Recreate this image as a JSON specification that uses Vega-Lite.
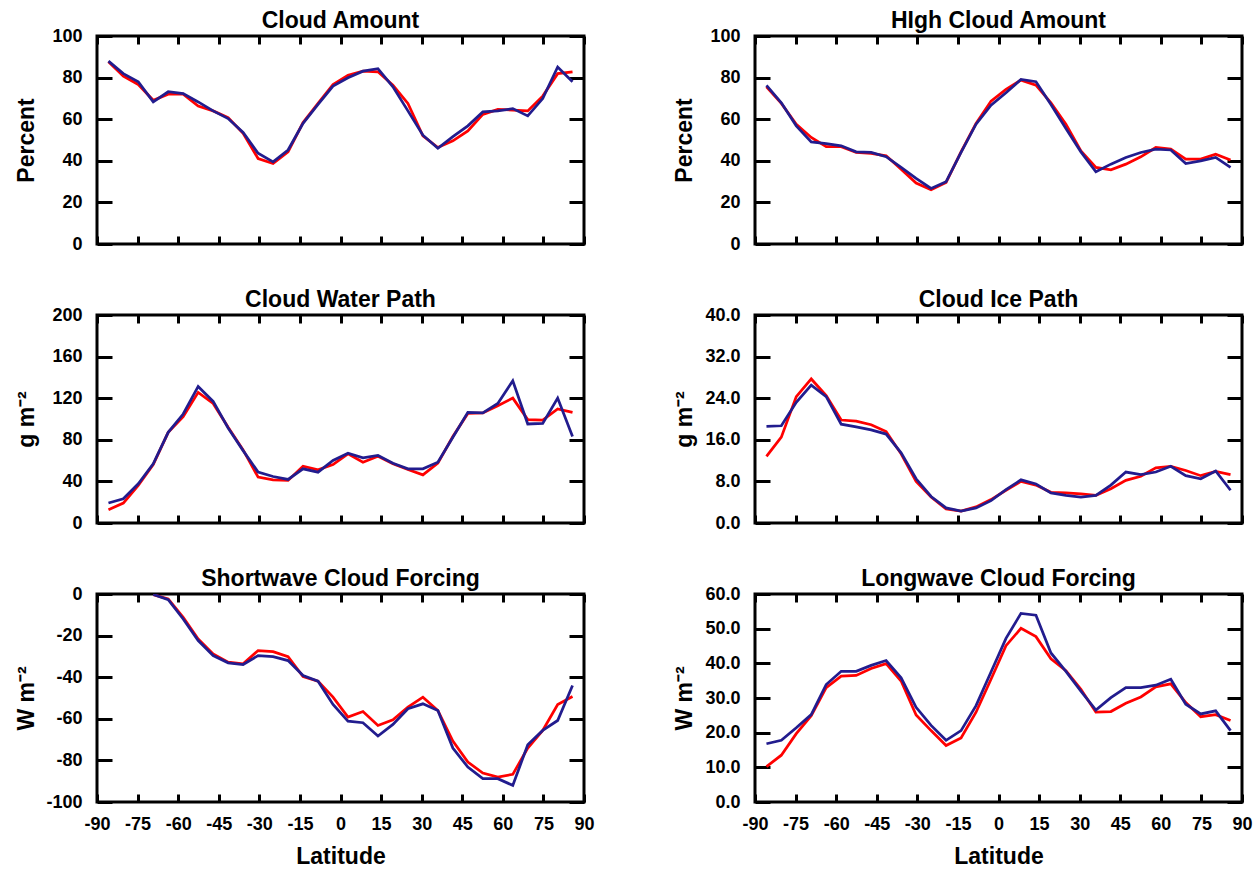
{
  "$schema": "https://vega.github.io/schema/vega-lite/v6.json",
  "padding": {"left": 13, "top": 8, "right": 5, "bottom": 0},
  "data": {"values": [
    {"lat": -85.761, "ca_r": 87.6, "ca_b": 87.9, "hc_r": 75.6, "hc_b": 76.3, "cw_r": 12.8, "cw_b": 19.2, "ci_r": 12.8, "ci_b": 18.6, "sw_r": null, "sw_b": null, "lw_r": 10.2, "lw_b": 16.8},
    {"lat": -80.269, "ca_r": 80.7, "ca_b": 81.9, "hc_r": 67.6, "hc_b": 67.9, "cw_r": 19.2, "cw_b": 23.3, "ci_r": 16.5, "ci_b": 18.7, "sw_r": null, "sw_b": null, "lw_r": 13.5, "lw_b": 17.8},
    {"lat": -74.745, "ca_r": 76.7, "ca_b": 78.0, "hc_r": 57.6, "hc_b": 56.8, "cw_r": 36.1, "cw_b": 37.7, "ci_r": 24.3, "ci_b": 23.2, "sw_r": null, "sw_b": null, "lw_r": 19.7, "lw_b": 21.4},
    {"lat": -69.213, "ca_r": 69.1, "ca_b": 68.3, "hc_r": 51.2, "hc_b": 49.1, "cw_r": 56.2, "cw_b": 56.9, "ci_r": 27.7, "ci_b": 26.5, "sw_r": -0.3, "sw_b": -0.2, "lw_r": 24.9, "lw_b": 25.2},
    {"lat": -63.679, "ca_r": 72.0, "ca_b": 73.2, "hc_r": 46.8, "hc_b": 48.3, "cw_r": 87.2, "cw_b": 87.2, "ci_r": 24.5, "ci_b": 24.3, "sw_r": -2.4, "sw_b": -2.7, "lw_r": 33.0, "lw_b": 33.9},
    {"lat": -58.143, "ca_r": 72.0, "ca_b": 72.3, "hc_r": 46.8, "hc_b": 47.2, "cw_r": 102.2, "cw_b": 104.8, "ci_r": 19.8, "ci_b": 19.0, "sw_r": -11.2, "sw_b": -12.0, "lw_r": 36.3, "lw_b": 37.7},
    {"lat": -52.607, "ca_r": 66.3, "ca_b": 68.3, "hc_r": 44.0, "hc_b": 44.3, "cw_r": 125.6, "cw_b": 131.3, "ci_r": 19.6, "ci_b": 18.5, "sw_r": -21.6, "sw_b": -22.4, "lw_r": 36.5, "lw_b": 37.7},
    {"lat": -47.070, "ca_r": 64.0, "ca_b": 64.0, "hc_r": 43.6, "hc_b": 44.0, "cw_r": 115.0, "cw_b": 116.9, "ci_r": 18.9, "ci_b": 17.9, "sw_r": -28.8, "sw_b": -29.6, "lw_r": 38.5, "lw_b": 39.4},
    {"lat": -41.532, "ca_r": 60.8, "ca_b": 60.3, "hc_r": 42.4, "hc_b": 42.0, "cw_r": 92.0, "cw_b": 91.4, "ci_r": 17.6, "ci_b": 17.1, "sw_r": -32.8, "sw_b": -33.1, "lw_r": 39.9, "lw_b": 40.8},
    {"lat": -35.995, "ca_r": 53.2, "ca_b": 53.6, "hc_r": 36.0, "hc_b": 36.8, "cw_r": 70.3, "cw_b": 69.6, "ci_r": 13.3, "ci_b": 13.5, "sw_r": -33.6, "sw_b": -33.9, "lw_r": 34.9, "lw_b": 35.8},
    {"lat": -30.458, "ca_r": 41.1, "ca_b": 43.6, "hc_r": 29.3, "hc_b": 31.5, "cw_r": 44.1, "cw_b": 48.9, "ci_r": 8.0, "ci_b": 8.5, "sw_r": -27.2, "sw_b": -29.6, "lw_r": 25.1, "lw_b": 27.3},
    {"lat": -24.920, "ca_r": 38.7, "ca_b": 39.5, "hc_r": 26.1, "hc_b": 26.7, "cw_r": 41.5, "cw_b": 44.7, "ci_r": 5.0, "ci_b": 5.1, "sw_r": -27.7, "sw_b": -30.1, "lw_r": 20.6, "lw_b": 22.1},
    {"lat": -19.382, "ca_r": 44.3, "ca_b": 45.2, "hc_r": 29.6, "hc_b": 29.9, "cw_r": 40.9, "cw_b": 41.9, "ci_r": 2.7, "ci_b": 2.9, "sw_r": -30.1, "sw_b": -32.0, "lw_r": 16.3, "lw_b": 17.8},
    {"lat": -13.844, "ca_r": 58.4, "ca_b": 58.0, "hc_r": 44.3, "hc_b": 44.0, "cw_r": 54.6, "cw_b": 52.1, "ci_r": 2.3, "ci_b": 2.3, "sw_r": -39.7, "sw_b": -39.2, "lw_r": 18.5, "lw_b": 20.6},
    {"lat": -8.306, "ca_r": 67.6, "ca_b": 67.1, "hc_r": 58.0, "hc_b": 57.6, "cw_r": 51.1, "cw_b": 48.9, "ci_r": 3.1, "ci_b": 2.9, "sw_r": -41.9, "sw_b": -41.9, "lw_r": 25.9, "lw_b": 27.8},
    {"lat": -2.769, "ca_r": 76.7, "ca_b": 75.9, "hc_r": 68.7, "hc_b": 66.7, "cw_r": 56.2, "cw_b": 60.1, "ci_r": 4.5, "ci_b": 4.3, "sw_r": -49.6, "sw_b": -53.1, "lw_r": 35.4, "lw_b": 37.5},
    {"lat": 2.769, "ca_r": 81.1, "ca_b": 79.9, "hc_r": 74.3, "hc_b": 72.7, "cw_r": 66.5, "cw_b": 67.1, "ci_r": 6.3, "ci_b": 6.4, "sw_r": -59.2, "sw_b": -61.1, "lw_r": 45.1, "lw_b": 47.2},
    {"lat": 8.306, "ca_r": 83.1, "ca_b": 83.1, "hc_r": 78.8, "hc_b": 79.1, "cw_r": 58.5, "cw_b": 62.6, "ci_r": 8.0, "ci_b": 8.3, "sw_r": -56.5, "sw_b": -61.9, "lw_r": 50.1, "lw_b": 54.4},
    {"lat": 13.844, "ca_r": 82.8, "ca_b": 84.3, "hc_r": 76.4, "hc_b": 78.0, "cw_r": 64.2, "cw_b": 64.9, "ci_r": 7.3, "ci_b": 7.5, "sw_r": -63.2, "sw_b": -68.3, "lw_r": 47.7, "lw_b": 53.9},
    {"lat": 19.382, "ca_r": 76.3, "ca_b": 75.6, "hc_r": 67.9, "hc_b": 67.1, "cw_r": 56.9, "cw_b": 57.5, "ci_r": 5.9, "ci_b": 5.8, "sw_r": -60.5, "sw_b": -62.7, "lw_r": 41.3, "lw_b": 43.0},
    {"lat": 24.920, "ca_r": 67.6, "ca_b": 64.0, "hc_r": 57.6, "hc_b": 55.5, "cw_r": 51.4, "cw_b": 52.1, "ci_r": 5.8, "ci_b": 5.3, "sw_r": -54.4, "sw_b": -55.2, "lw_r": 37.9, "lw_b": 37.7},
    {"lat": 30.458, "ca_r": 52.0, "ca_b": 52.3, "hc_r": 44.8, "hc_b": 44.3, "cw_r": 46.3, "cw_b": 52.1, "ci_r": 5.6, "ci_b": 5.0, "sw_r": -49.6, "sw_b": -52.8, "lw_r": 32.5, "lw_b": 32.0},
    {"lat": 35.995, "ca_r": 46.4, "ca_b": 46.0, "hc_r": 36.8, "hc_b": 34.7, "cw_r": 57.5, "cw_b": 58.5, "ci_r": 5.3, "ci_b": 5.3, "sw_r": -56.0, "sw_b": -56.0, "lw_r": 25.9, "lw_b": 26.5},
    {"lat": 41.532, "ca_r": 49.6, "ca_b": 51.6, "hc_r": 35.7, "hc_b": 38.4, "cw_r": 83.1, "cw_b": 82.4, "ci_r": 6.6, "ci_b": 7.3, "sw_r": -70.7, "sw_b": -74.1, "lw_r": 26.1, "lw_b": 30.1},
    {"lat": 47.070, "ca_r": 54.4, "ca_b": 56.8, "hc_r": 38.4, "hc_b": 41.6, "cw_r": 105.4, "cw_b": 106.4, "ci_r": 8.2, "ci_b": 9.8, "sw_r": -80.8, "sw_b": -83.2, "lw_r": 28.5, "lw_b": 33.0},
    {"lat": 52.607, "ca_r": 62.3, "ca_b": 63.5, "hc_r": 41.9, "hc_b": 44.0, "cw_r": 105.8, "cw_b": 105.8, "ci_r": 9.0, "ci_b": 9.3, "sw_r": -86.1, "sw_b": -88.8, "lw_r": 30.3, "lw_b": 33.0},
    {"lat": 58.143, "ca_r": 64.7, "ca_b": 64.0, "hc_r": 46.4, "hc_b": 45.6, "cw_r": 112.8, "cw_b": 115.0, "ci_r": 10.6, "ci_b": 9.8, "sw_r": -88.0, "sw_b": -88.8, "lw_r": 33.2, "lw_b": 33.7},
    {"lat": 63.679, "ca_r": 64.4, "ca_b": 65.1, "hc_r": 45.6, "hc_b": 45.2, "cw_r": 120.1, "cw_b": 136.7, "ci_r": 10.9, "ci_b": 10.9, "sw_r": -86.7, "sw_b": -92.0, "lw_r": 34.1, "lw_b": 35.4},
    {"lat": 69.213, "ca_r": 64.0, "ca_b": 61.6, "hc_r": 40.8, "hc_b": 38.7, "cw_r": 99.4, "cw_b": 95.2, "ci_r": 10.1, "ci_b": 9.1, "sw_r": -74.1, "sw_b": -72.5, "lw_r": 28.7, "lw_b": 28.2},
    {"lat": 74.745, "ca_r": 71.1, "ca_b": 69.9, "hc_r": 40.8, "hc_b": 40.0, "cw_r": 99.0, "cw_b": 95.8, "ci_r": 9.1, "ci_b": 8.5, "sw_r": -65.6, "sw_b": -65.6, "lw_r": 24.6, "lw_b": 25.4},
    {"lat": 80.269, "ca_r": 81.9, "ca_b": 85.1, "hc_r": 43.2, "hc_b": 41.6, "cw_r": 109.6, "cw_b": 120.1, "ci_r": 9.9, "ci_b": 10.0, "sw_r": -53.1, "sw_b": -60.8, "lw_r": 25.2, "lw_b": 26.3},
    {"lat": 85.761, "ca_r": 82.8, "ca_b": 78.0, "hc_r": 40.4, "hc_b": 36.8, "cw_r": 106.4, "cw_b": 83.1, "ci_r": 9.3, "ci_b": 6.3, "sw_r": -49.3, "sw_b": -44.0, "lw_r": 23.5, "lw_b": 20.6}
  ]},
  "columns": 2,
  "bounds": "flush",
  "spacing": {"row": 71, "column": 171},
  "concat": [
    {
      "title": "Cloud Amount", "width": 487, "height": 208,
      "layer": [
        {"mark": {"type": "line", "color": "#ff0000"},
         "encoding": {
           "x": {"field": "lat", "type": "quantitative", "scale": {"domain": [-90, 90], "nice": false, "zero": false}, "axis": {"orient": "bottom", "labels": false, "title": null, "values": [-90,-75,-60,-45,-30,-15,0,15,30,45,60,75,90]}},
           "y": {"field": "ca_r", "type": "quantitative", "scale": {"domain": [0, 100], "nice": false, "zero": false}, "axis": {"orient": "left", "values": [0,20,40,60,80,100], "title": "Percent"}}}},
        {"mark": {"type": "line", "color": "#221c8e"},
         "encoding": {
           "x": {"field": "lat", "type": "quantitative", "axis": {"orient": "top", "labels": false, "title": null, "values": [-90,-75,-60,-45,-30,-15,0,15,30,45,60,75,90]}},
           "y": {"field": "ca_b", "type": "quantitative", "axis": {"orient": "right", "labels": false, "title": null, "values": [0,20,40,60,80,100]}}}}
      ],
      "resolve": {"axis": {"x": "independent", "y": "independent"}}
    },
    {
      "title": "HIgh Cloud Amount", "width": 487, "height": 208,
      "layer": [
        {"mark": {"type": "line", "color": "#ff0000"},
         "encoding": {
           "x": {"field": "lat", "type": "quantitative", "scale": {"domain": [-90, 90], "nice": false, "zero": false}, "axis": {"orient": "bottom", "labels": false, "title": null, "values": [-90,-75,-60,-45,-30,-15,0,15,30,45,60,75,90]}},
           "y": {"field": "hc_r", "type": "quantitative", "scale": {"domain": [0, 100], "nice": false, "zero": false}, "axis": {"orient": "left", "values": [0,20,40,60,80,100], "title": "Percent"}}}},
        {"mark": {"type": "line", "color": "#221c8e"},
         "encoding": {
           "x": {"field": "lat", "type": "quantitative", "axis": {"orient": "top", "labels": false, "title": null, "values": [-90,-75,-60,-45,-30,-15,0,15,30,45,60,75,90]}},
           "y": {"field": "hc_b", "type": "quantitative", "axis": {"orient": "right", "labels": false, "title": null, "values": [0,20,40,60,80,100]}}}}
      ],
      "resolve": {"axis": {"x": "independent", "y": "independent"}}
    },
    {
      "title": "Cloud Water Path", "width": 487, "height": 208,
      "layer": [
        {"mark": {"type": "line", "color": "#ff0000"},
         "encoding": {
           "x": {"field": "lat", "type": "quantitative", "scale": {"domain": [-90, 90], "nice": false, "zero": false}, "axis": {"orient": "bottom", "labels": false, "title": null, "values": [-90,-75,-60,-45,-30,-15,0,15,30,45,60,75,90]}},
           "y": {"field": "cw_r", "type": "quantitative", "scale": {"domain": [0, 200], "nice": false, "zero": false}, "axis": {"orient": "left", "values": [0,40,80,120,160,200], "title": "g m⁻²"}}}},
        {"mark": {"type": "line", "color": "#221c8e"},
         "encoding": {
           "x": {"field": "lat", "type": "quantitative", "axis": {"orient": "top", "labels": false, "title": null, "values": [-90,-75,-60,-45,-30,-15,0,15,30,45,60,75,90]}},
           "y": {"field": "cw_b", "type": "quantitative", "axis": {"orient": "right", "labels": false, "title": null, "values": [0,40,80,120,160,200]}}}}
      ],
      "resolve": {"axis": {"x": "independent", "y": "independent"}}
    },
    {
      "title": "Cloud Ice Path", "width": 487, "height": 208,
      "layer": [
        {"mark": {"type": "line", "color": "#ff0000"},
         "encoding": {
           "x": {"field": "lat", "type": "quantitative", "scale": {"domain": [-90, 90], "nice": false, "zero": false}, "axis": {"orient": "bottom", "labels": false, "title": null, "values": [-90,-75,-60,-45,-30,-15,0,15,30,45,60,75,90]}},
           "y": {"field": "ci_r", "type": "quantitative", "scale": {"domain": [0, 40], "nice": false, "zero": false}, "axis": {"orient": "left", "values": [0,8,16,24,32,40], "format": ".1f", "title": "g m⁻²"}}}},
        {"mark": {"type": "line", "color": "#221c8e"},
         "encoding": {
           "x": {"field": "lat", "type": "quantitative", "axis": {"orient": "top", "labels": false, "title": null, "values": [-90,-75,-60,-45,-30,-15,0,15,30,45,60,75,90]}},
           "y": {"field": "ci_b", "type": "quantitative", "axis": {"orient": "right", "labels": false, "title": null, "values": [0,8,16,24,32,40]}}}}
      ],
      "resolve": {"axis": {"x": "independent", "y": "independent"}}
    },
    {
      "title": "Shortwave Cloud Forcing", "width": 487, "height": 208,
      "layer": [
        {"mark": {"type": "line", "color": "#ff0000", "clip": true},
         "encoding": {
           "x": {"field": "lat", "type": "quantitative", "scale": {"domain": [-90, 90], "nice": false, "zero": false}, "axis": {"orient": "bottom", "labels": true, "title": "Latitude", "values": [-90,-75,-60,-45,-30,-15,0,15,30,45,60,75,90], "labelExpr": "replace(datum.label, '\u2212', '-')"}},
           "y": {"field": "sw_r", "type": "quantitative", "scale": {"domain": [-100, 0], "nice": false, "zero": false}, "axis": {"orient": "left", "values": [-100,-80,-60,-40,-20,0], "title": "W m⁻²", "labelExpr": "replace(datum.label, '\u2212', '-')"}}}},
        {"mark": {"type": "line", "color": "#221c8e", "clip": true},
         "encoding": {
           "x": {"field": "lat", "type": "quantitative", "axis": {"orient": "top", "labels": false, "title": null, "values": [-90,-75,-60,-45,-30,-15,0,15,30,45,60,75,90]}},
           "y": {"field": "sw_b", "type": "quantitative", "axis": {"orient": "right", "labels": false, "title": null, "values": [-100,-80,-60,-40,-20,0]}}}}
      ],
      "resolve": {"axis": {"x": "independent", "y": "independent"}}
    },
    {
      "title": "Longwave Cloud Forcing", "width": 487, "height": 208,
      "layer": [
        {"mark": {"type": "line", "color": "#ff0000"},
         "encoding": {
           "x": {"field": "lat", "type": "quantitative", "scale": {"domain": [-90, 90], "nice": false, "zero": false}, "axis": {"orient": "bottom", "labels": true, "title": "Latitude", "values": [-90,-75,-60,-45,-30,-15,0,15,30,45,60,75,90], "labelExpr": "replace(datum.label, '\u2212', '-')"}},
           "y": {"field": "lw_r", "type": "quantitative", "scale": {"domain": [0, 60], "nice": false, "zero": false}, "axis": {"orient": "left", "values": [0,10,20,30,40,50,60], "format": ".1f", "title": "W m⁻²"}}}},
        {"mark": {"type": "line", "color": "#221c8e"},
         "encoding": {
           "x": {"field": "lat", "type": "quantitative", "axis": {"orient": "top", "labels": false, "title": null, "values": [-90,-75,-60,-45,-30,-15,0,15,30,45,60,75,90]}},
           "y": {"field": "lw_b", "type": "quantitative", "axis": {"orient": "right", "labels": false, "title": null, "values": [0,10,20,30,40,50,60]}}}}
      ],
      "resolve": {"axis": {"x": "independent", "y": "independent"}}
    }
  ],
  "config": {
    "font": "Liberation Sans",
    "background": "white",
    "view": {"stroke": "black", "strokeWidth": 3},
    "line": {"strokeWidth": 2.75},
    "title": {"font": "Liberation Sans", "fontSize": 23, "fontWeight": "bold", "color": "black", "anchor": "middle", "frame": "group", "offset": -6},
    "axis": {"domain": false, "grid": false, "tickColor": "black", "tickWidth": 3, "labelFont": "Liberation Sans", "labelFontSize": 18, "labelFontWeight": "bold", "labelColor": "black", "labelFlush": false, "labelOverlap": false, "titleFont": "Liberation Sans", "titleFontSize": 23, "titleFontWeight": "bold", "titleColor": "black"},
    "axisY": {"tickSize": -15, "labelPadding": 30},
    "axisX": {"tickSize": -8, "labelPadding": 21},
    "axisLeft": {"titleX": -71, "titleY": 104, "titleAngle": -90, "titleBaseline": "middle", "titleAlign": "center"},
    "axisBottom": {"titleY": 54, "titleBaseline": "middle", "titleAlign": "center"}
  }
}
